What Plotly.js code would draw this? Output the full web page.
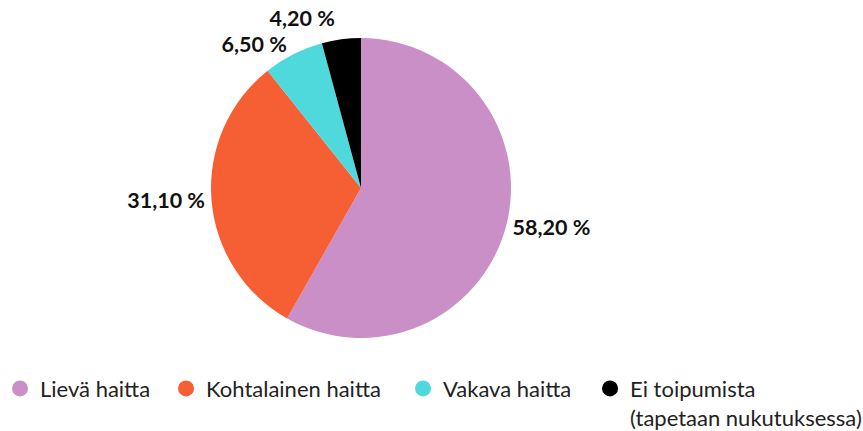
<!DOCTYPE html>
<html>
<head>
<meta charset="utf-8">
<script src="https://cdn.plot.ly/plotly-3.0.1.min.js"></script>
<style>html,body{margin:0;padding:0;background:#fff;}</style>
</head>
<body>
<div id="chart" style="width:863px;height:431px;"></div>
<script>
const categories = ["Lievä haitta", "Kohtalainen haitta", "Vakava haitta", "Ei toipumista<br>(tapetaan nukutuksessa)"];
const values = [58.2, 31.1, 6.5, 4.2];
const colors = ["#c98fc6", "#f55f33", "#4fd9dc", "#000000"];

const legendIds = ["legend", "legend2", "legend3", "legend4"];
const legendX = [0, 0.1924, 0.467, 0.6837];

const pie = {
  type: "pie",
  labels: categories,
  values: values,
  sort: false,
  direction: "clockwise",
  rotation: 0,
  marker: {colors: colors, line: {width: 0}},
  textposition: "outside",
  texttemplate: "%{value:.2f} %",
  textfont: {family: "Lato, 'Open Sans', sans-serif", size: 21.5, color: "#111", weight: "bold"},
  outsidetextfont: {family: "Lato, 'Open Sans', sans-serif", size: 21.5, color: "#111", weight: "bold"},
  showlegend: false,
  hoverinfo: "none",
  domain: {x: [0.1, 0.7366], y: [0.2158, 0.9118]}
};

const legendTraces = categories.map((c, i) => ({
  type: "scatter",
  mode: "markers",
  x: [null], y: [null],
  name: c,
  legend: legendIds[i],
  marker: {symbol: "circle", size: 20, color: colors[i]},
  showlegend: true,
  hoverinfo: "none"
}));

const layout = {
  width: 863, height: 431,
  margin: {l: 0, r: 0, t: 0, b: 0, autoexpand: false},
  paper_bgcolor: "#fff",
  plot_bgcolor: "#fff",
  separators: ", ",
  showlegend: true,
  xaxis: {visible: false, range: [0, 1]},
  yaxis: {visible: false, range: [0, 1]}
};
legendIds.forEach((id, i) => {
  layout[id] = {
    orientation: "h",
    x: legendX[i], y: 0.147, xanchor: "left", yanchor: "top",
    font: {family: "Lato, 'Open Sans', sans-serif", size: 22, color: "#222"},
    valign: "top",
    bgcolor: "rgba(0,0,0,0)"
  };
});

const gd = document.getElementById("chart");
Plotly.newPlot(gd, [pie, ...legendTraces], layout, {displayModeBar: false, staticPlot: true}).then(() => {
  gd.querySelectorAll("path.textline").forEach(p => p.style.display = "none");
});
</script>
</body>
</html>
